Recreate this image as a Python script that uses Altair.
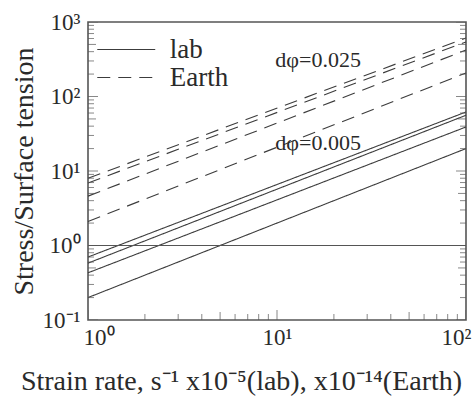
import altair as alt
import pandas as pd

# ---------------- data ----------------
x_start, x_end = 1, 100
lab_start = [0.70, 0.58, 0.43, 0.20]
lab_end = [62, 56, 39, 20]
earth_start = [8.0, 6.9, 4.6, 2.1]
earth_end = [610, 540, 420, 207]
ref_level = 1.0

annot_text = ["dφ=0.025", "dφ=0.005"]
annot_x = [9.8, 9.8]
annot_y = [310, 24]

x_major = [1, 10, 100]
x_tick_labels = ["10⁰", "10¹", "10²"]
y_major = [0.1, 1, 10, 100, 1000]
y_tick_labels = ["10⁻¹", "10⁰", "10¹", "10²", "10³"]

x_title = "Strain rate, s⁻¹ x10⁻⁵(lab), x10⁻¹⁴(Earth)"
y_title = "Stress/Surface tension"
series_names = ["lab", "Earth"]

# ---------------- build tables ----------------
rows = []
for name, starts, ends in [("lab", lab_start, lab_end), ("Earth", earth_start, earth_end)]:
    for i, (s, e) in enumerate(zip(starts, ends)):
        rows.append({"id": f"{name}{i}", "type": name, "x": x_start, "y": s})
        rows.append({"id": f"{name}{i}", "type": name, "x": x_end, "y": e})
lines_df = pd.DataFrame(rows)
ref_df = pd.DataFrame({"x": [x_start, x_end], "y": [ref_level, ref_level]})
annot_df = pd.DataFrame({"x": annot_x, "y": annot_y, "t": annot_text})


def tick_table(decades, last):
    vals, sizes = [], []
    for d in decades:
        for m in range(1, 10):
            v = m * d
            vals.append(v)
            sizes.append(20 if m == 1 else (16 if m == 5 else 12))
    vals.append(last)
    sizes.append(20)
    return pd.DataFrame({"x": vals, "y": vals, "s": sizes})


xticks_df = tick_table([1, 10], 100)
yticks_df = tick_table([0.1, 1, 10, 100], 1000)

W, H = 378, 298
FONT = "Liberation Serif"
INK = "#2a2a2a"
LINE = "#3c3c3c"

xs = alt.Scale(type="log", domain=[x_start, x_end], nice=False)
ys = alt.Scale(type="log", domain=[y_major[0], y_major[-1]], nice=False)


def label_expr(vals, labs):
    expr = "''"
    for v, l in reversed(list(zip(vals, labs))):
        expr = f"datum.value == {v} ? '{l}' : ({expr})"
    return expr


x_axis = alt.Axis(values=x_major, labelExpr=label_expr(x_major, x_tick_labels),
                  ticks=False, tickSize=0, domain=False, grid=False,
                  labelFont=FONT, labelFontSize=23, labelColor=INK, labelPadding=6,
                  labelFlush=True, labelFlushOffset=5, labelOverlap=False,
                  title=x_title, titleFont=FONT, titleFontSize=28, titleFontWeight="normal",
                  titleColor=INK, titlePadding=18, titleX=153, titleAlign="center")
y_axis = alt.Axis(values=y_major, labelExpr=label_expr(y_major, y_tick_labels),
                  ticks=False, tickSize=0, domain=False, grid=False,
                  labelFont=FONT, labelFontSize=23, labelColor=INK, labelPadding=8,
                  labelOverlap=False,
                  title=y_title, titleFont=FONT, titleFontSize=28, titleFontWeight="normal",
                  titleColor=INK, titlePadding=4)

X = alt.X("x:Q", scale=xs, axis=x_axis)
Y = alt.Y("y:Q", scale=ys, axis=y_axis)

lines = alt.Chart(lines_df).mark_line(strokeWidth=1.1, color=LINE).encode(
    x=X, y=Y,
    detail="id:N",
    strokeDash=alt.StrokeDash(
        "type:N",
        scale=alt.Scale(domain=series_names, range=[[1, 0], [13, 8]]),
        legend=alt.Legend(title=None, orient="none", legendX=24.75, legendY=14,
                          symbolType="M-4,0H4", symbolSize=210,
                          symbolStrokeColor=LINE, symbolStrokeWidth=1.1,
                          labelFont=FONT, labelFontSize=27, labelColor=INK,
                          labelOffset=30, padding=0, rowPadding=0),
    ),
)

ref = alt.Chart(ref_df).mark_line(strokeWidth=1.1, color="#555").encode(x=X, y=Y)

annots = alt.Chart(annot_df).mark_text(align="left", baseline="middle", font=FONT,
                                       fontSize=22, color=INK).encode(
    x=X, y=Y, text="t:N",
)

tick_style = dict(clip=True, thickness=1, color="#555")
bottom_ticks = alt.Chart(xticks_df).mark_tick(orient="vertical", **tick_style).encode(
    x=X, y=alt.value(H),
    size=alt.Size("s:Q", scale=None, legend=None))
left_ticks = alt.Chart(yticks_df).mark_tick(orient="horizontal", **tick_style).encode(
    y=Y, x=alt.value(0),
    size=alt.Size("s:Q", scale=None, legend=None))
right_ticks = alt.Chart(yticks_df).mark_tick(orient="horizontal", **tick_style).encode(
    y=Y, x=alt.value(W),
    size=alt.Size("s:Q", scale=None, legend=None))

chart = alt.layer(lines, ref, annots, bottom_ticks, left_ticks, right_ticks).properties(
    width=W, height=H, autosize="none",
    padding={"left": 88, "top": 22, "right": 9, "bottom": 82},
    background="white",
).configure_view(stroke="#555", strokeWidth=1.6)

chart.save("out.html", embed_options={"renderer": "svg", "actions": False})
